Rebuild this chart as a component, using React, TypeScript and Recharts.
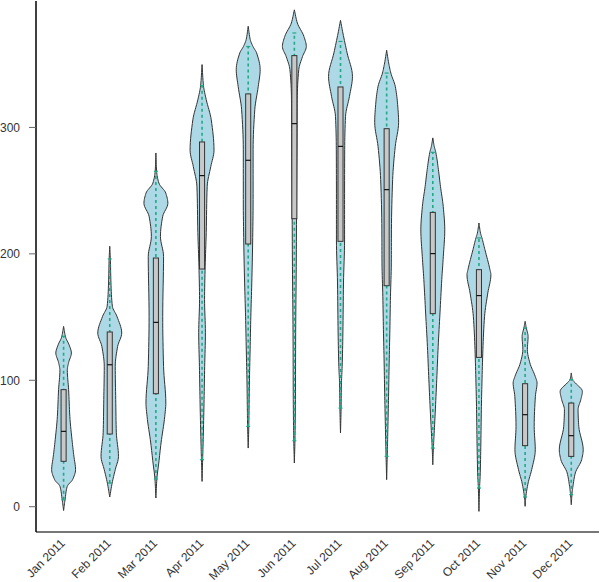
import React from "react";
import { ComposedChart, Bar, XAxis, YAxis } from "recharts";

const MONTHS = [
  "Jan 2011", "Feb 2011", "Mar 2011", "Apr 2011", "May 2011", "Jun 2011",
  "Jul 2011", "Aug 2011", "Sep 2011", "Oct 2011", "Nov 2011", "Dec 2011",
];

// box stats
const Q1 = [35.9, 57.5, 89.4, 188, 207.8, 227.8, 209.9, 174.8, 152.7, 118.1, 48.3, 39.8];
const MEDIAN = [59.6, 112.3, 145.8, 261.9, 274, 303, 285, 250.8, 200.2, 167, 72.8, 56.2];
const Q3 = [92.6, 138.2, 196.7, 288.5, 326.5, 356.8, 332, 299, 232.8, 187.5, 97.3, 82];
const WHISK_LO = [5.5, 18.7, 21.9, 37.2, 63.5, 52.2, 78, 39.8, 46.4, 14.8, 7.7, 9.5];
const WHISK_HI = [134.8, 196, 265.3, 333, 364, 374.7, 368, 343, 280.3, 212.6, 141.4, 100.5];

// violin profiles: [value, relative density]
const JAN = [[-3, 0], [5.5, 0.12], [16, 0.3], [21.4, 0.75], [29.3, 1], [40, 0.86], [50.6, 0.73], [71.5, 0.52], [92.6, 0.42], [108, 0.31], [114, 0.42], [121.6, 0.65], [128, 0.46], [134, 0.17], [142.6, 0]];
const FEB = [[7.7, 0], [18.7, 0.2], [29.3, 0.46], [39.8, 0.73], [58.5, 0.55], [84.7, 0.5], [111, 0.46], [126.8, 0.66], [137.4, 1], [150.6, 0.6], [158.5, 0.22], [177, 0.1], [196, 0.05], [206, 0]];
const MAR = [[6.9, 0], [21.9, 0.08], [34.6, 0.24], [50.4, 0.43], [71.5, 0.74], [82, 0.83], [111, 0.64], [150.6, 0.57], [198, 0.64], [213.8, 0.38], [229.7, 0.57], [240, 1], [248, 0.83], [256, 0.25], [265.3, 0.06], [279.8, 0]];
const APR = [[20, 0], [37.2, 0.05], [58.3, 0.11], [84.7, 0.17], [111, 0.22], [137.6, 0.28], [163.8, 0.21], [190, 0.26], [216.8, 0.35], [253.4, 0.43], [269, 0.73], [282, 1], [306, 0.77], [322, 0.35], [333, 0.12], [349.7, 0]];
const MAY = [[46.4, 0], [63.5, 0.05], [97.9, 0.1], [124, 0.16], [150.6, 0.22], [177, 0.3], [208.6, 0.37], [243, 0.41], [282.4, 0.41], [314, 0.55], [332.5, 0.84], [345.7, 1], [359, 0.7], [364, 0.4], [369.5, 0.17], [380, 0]];
const JUN = [[34.6, 0], [52.2, 0.05], [84.7, 0.09], [137.6, 0.11], [190, 0.16], [243, 0.19], [296, 0.23], [322, 0.24], [345.7, 0.37], [356, 0.68], [364, 1], [372, 0.8], [382.6, 0.25], [393, 0]];
const JUL = [[58.3, 0], [78, 0.05], [98, 0.08], [111, 0.14], [137.4, 0.2], [177, 0.25], [211, 0.34], [243, 0.34], [282.4, 0.35], [308.8, 0.42], [324.6, 0.75], [340.4, 1], [359, 0.55], [374.7, 0.2], [384.7, 0]];
const AUG = [[21.4, 0], [39.8, 0.05], [61, 0.1], [87.3, 0.16], [113.7, 0.21], [140, 0.27], [166.4, 0.32], [192.8, 0.39], [219, 0.4], [258.7, 0.5], [285, 0.72], [304, 1], [320, 0.9], [332.5, 0.72], [343, 0.35], [351, 0.17], [361, 0]];
const SEP = [[33.2, 0], [46.4, 0.05], [55.6, 0.1], [74, 0.2], [100.5, 0.33], [126.8, 0.45], [153.2, 0.6], [179.6, 0.75], [198, 0.88], [219, 1], [237.6, 0.87], [253.4, 0.64], [266.6, 0.47], [280.3, 0.25], [285, 0.12], [291.7, 0]];
const OCT = [[-3.7, 0], [14.8, 0.05], [24, 0.1], [50.4, 0.16], [76.7, 0.2], [97.9, 0.25], [124.2, 0.33], [150.6, 0.47], [169, 0.74], [183.5, 1], [187.5, 0.92], [203.3, 0.5], [212.6, 0.25], [216.5, 0.13], [224.4, 0]];
const NOV = [[0.3, 0], [7.7, 0.06], [18.7, 0.25], [29.3, 0.55], [45, 0.85], [63.5, 0.76], [87.3, 0.86], [97.9, 1], [103, 0.85], [113.7, 0.4], [124.2, 0.19], [134.7, 0.25], [141.4, 0.1], [146.6, 0]];
const DEC = [[1.6, 0], [9.5, 0.06], [16, 0.14], [26.7, 0.34], [37.2, 0.87], [45, 1], [63.5, 0.63], [76.7, 0.57], [84.7, 0.8], [91.2, 0.93], [97.9, 0.34], [100.5, 0.1], [105.8, 0]];

const VIOLINS = [JAN, FEB, MAR, APR, MAY, JUN, JUL, AUG, SEP, OCT, NOV, DEC];
const Y_TICKS = [0, 100, 200, 300];

const data = MONTHS.map((month, i) => ({
  month,
  range: [VIOLINS[i][0][0], VIOLINS[i][VIOLINS[i].length - 1][0]],
  violin: VIOLINS[i],
  q1: Q1[i],
  median: MEDIAN[i],
  q3: Q3[i],
  lo: WHISK_LO[i],
  hi: WHISK_HI[i],
}));

const FONT = '"Liberation Sans", Arial, Helvetica, sans-serif';

// monotone cubic sampling of the density profile so the outline stays smooth
function sampleProfile(pts: number[][], steps = 8) {
  const n = pts.length;
  const xs = pts.map((p) => p[0]);
  const ys = pts.map((p) => p[1]);
  const m: number[] = [];
  for (let k = 0; k < n - 1; k++) m.push((ys[k + 1] - ys[k]) / (xs[k + 1] - xs[k]));
  const t: number[] = new Array(n).fill(0);
  t[0] = m[0];
  t[n - 1] = m[n - 2];
  for (let k = 1; k < n - 1; k++) {
    if (m[k - 1] * m[k] <= 0) t[k] = 0;
    else {
      const h0 = xs[k] - xs[k - 1];
      const h1 = xs[k + 1] - xs[k];
      const w1 = 2 * h1 + h0;
      const w2 = h1 + 2 * h0;
      t[k] = (w1 + w2) / (w1 / m[k - 1] + w2 / m[k]);
    }
  }
  const out: number[][] = [];
  for (let k = 0; k < n - 1; k++) {
    const h = xs[k + 1] - xs[k];
    for (let s = 0; s < steps; s++) {
      const u = s / steps;
      const h00 = 2 * u ** 3 - 3 * u ** 2 + 1;
      const h10 = u ** 3 - 2 * u ** 2 + u;
      const h01 = -2 * u ** 3 + 3 * u ** 2;
      const h11 = u ** 3 - u ** 2;
      const val = h00 * ys[k] + h10 * h * t[k] + h01 * ys[k + 1] + h11 * h * t[k + 1];
      out.push([xs[k] + u * h, Math.max(0, val)]);
    }
  }
  out.push([xs[n - 1], ys[n - 1]]);
  return out;
}

function ViolinShape(props: any) {
  const { x, y, width, height, payload } = props;
  const [lo, hi] = payload.range;
  const toY = (v: number) => y + (height * (hi - v)) / (hi - lo);
  const cx = x + width / 2;
  const half = width * 0.26;
  const prof = sampleProfile(payload.violin);
  const right = prof.map(([v, d]) => `${(cx + d * half).toFixed(2)},${toY(v).toFixed(2)}`);
  const left = prof
    .slice()
    .reverse()
    .map(([v, d]) => `${(cx - d * half).toFixed(2)},${toY(v).toFixed(2)}`);
  const path = `M${right.join("L")}L${left.join("L")}Z`;
  const bw = width * 0.055;
  const cap = 2;
  return (
    <g>
      <path d={path} fill="#add8e6" stroke="#333" strokeWidth={1} strokeLinejoin="round" />
      <line x1={cx} x2={cx} y1={toY(payload.lo)} y2={toY(payload.hi)} stroke="#22a884" strokeWidth={1.6} strokeDasharray="3 3" />
      <line x1={cx - cap} x2={cx + cap} y1={toY(payload.lo)} y2={toY(payload.lo)} stroke="#22a884" strokeWidth={1.2} />
      <line x1={cx - cap} x2={cx + cap} y1={toY(payload.hi)} y2={toY(payload.hi)} stroke="#22a884" strokeWidth={1.2} />
      <rect x={cx - bw} y={toY(payload.q3)} width={bw * 2} height={toY(payload.q1) - toY(payload.q3)} fill="#c8c8c8" stroke="#333" strokeWidth={1} />
      <line x1={cx - bw} x2={cx + bw} y1={toY(payload.median)} y2={toY(payload.median)} stroke="#111" strokeWidth={1.2} />
    </g>
  );
}

function MonthTick(props: any) {
  const { x, y, payload } = props;
  const tx = x + 2;
  return (
    <text
      x={tx}
      y={y}
      textAnchor="end"
      transform={`rotate(-45 ${tx} ${y})`}
      fontFamily={FONT}
      fontSize={12}
      fill="#333"
    >
      {payload.value}
    </text>
  );
}

export default function App() {
  return (
    <div style={{ position: "absolute", left: 0, top: 0, background: "#fff" }}>
      <ComposedChart
        width={600}
        height={582}
        data={data}
        margin={{ top: 1, right: 1, bottom: 0, left: 0 }}
        barCategoryGap={0}
      >
        <XAxis
          dataKey="month"
          height={50}
          padding={{ left: 4.6, right: 4.6 }}
          interval={0}
          tickLine={false}
          tickSize={0}
          tickMargin={12}
          axisLine={{ stroke: "#777", strokeWidth: 2 }}
          tick={<MonthTick />}
        />
        <XAxis
          xAxisId="top"
          dataKey="month"
          orientation="top"
          height={0}
          tick={false}
          tickLine={false}
          axisLine={{ stroke: "#000", strokeWidth: 1.5 }}
        />
        <YAxis
          width={36}
          domain={[-20, 400]}
          ticks={Y_TICKS}
          allowDataOverflow
          tickSize={7}
          tickMargin={9}
          tickLine={{ stroke: "#666" }}
          axisLine={{ stroke: "#000", strokeWidth: 1.5 }}
          tick={{ fontFamily: FONT, fontSize: 12, fill: "#333" }}
        />
        <YAxis
          yAxisId="right"
          orientation="right"
          width={0}
          domain={[-20, 400]}
          tick={false}
          tickLine={false}
          axisLine={{ stroke: "#888", strokeWidth: 1.5 }}
        />
        <Bar dataKey="range" shape={<ViolinShape />} isAnimationActive={false} />
      </ComposedChart>
    </div>
  );
}
